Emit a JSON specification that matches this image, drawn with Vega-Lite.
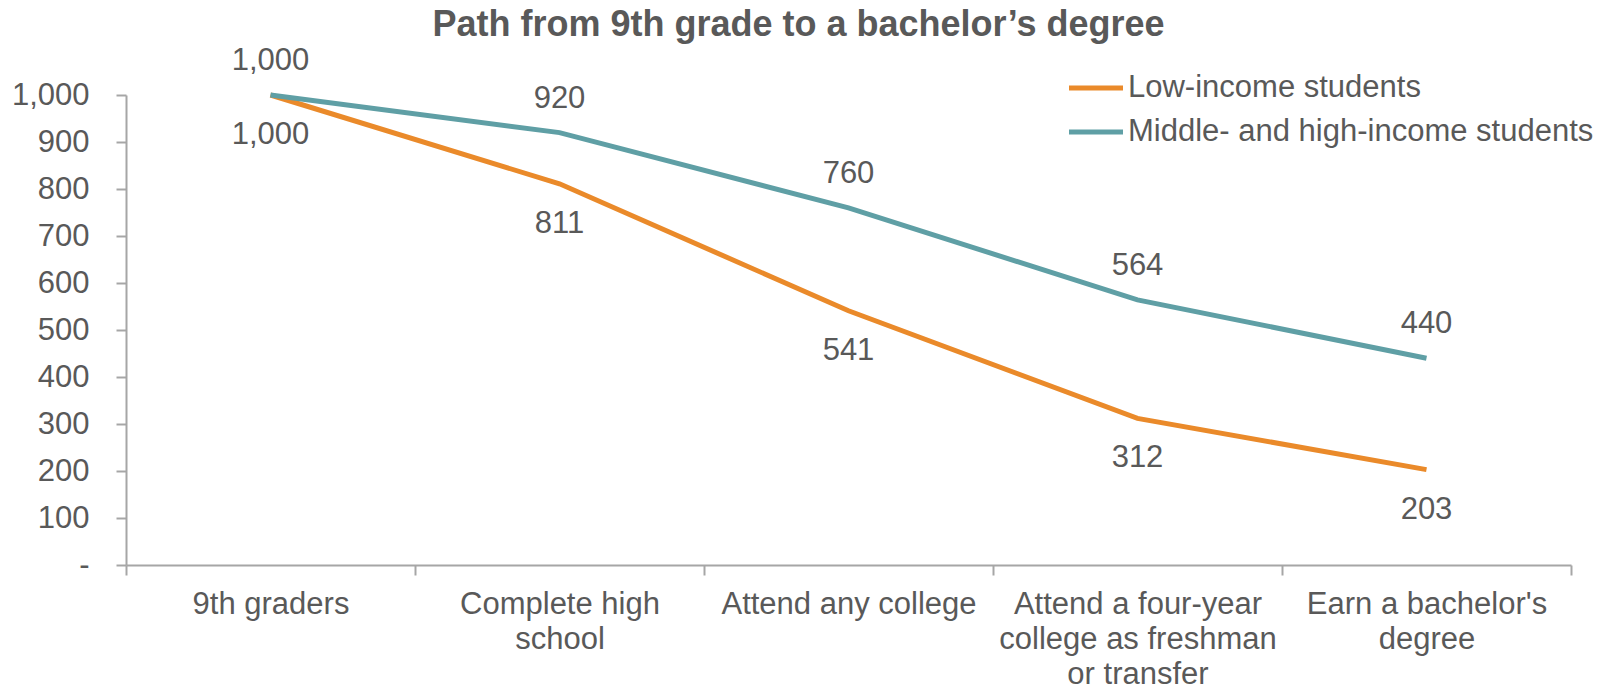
{
  "$schema": "https://vega.github.io/schema/vega-lite/v6.json",
  "width": 1445,
  "height": 470,
  "autosize": {"type": "none"},
  "padding": {"left": 126, "top": 95, "right": 52, "bottom": 127},
  "background": "white",
  "config": {"view": {"stroke": null}},
  "title": {
    "text": "Path from 9th grade to a bachelor’s degree",
    "font": "Liberation Sans",
    "fontSize": 36,
    "fontWeight": "bold",
    "color": "#595959",
    "anchor": "middle",
    "frame": "group",
    "dx": -50,
    "baseline": "alphabetic",
    "offset": -27
  },
  "data": {
    "values": [
      {"stage": "9th graders", "group": "Low-income students", "count": 1000},
      {"stage": "Complete high school", "group": "Low-income students", "count": 811},
      {"stage": "Attend any college", "group": "Low-income students", "count": 541},
      {"stage": "Attend a four-year college as freshman or transfer", "group": "Low-income students", "count": 312},
      {"stage": "Earn a bachelor's degree", "group": "Low-income students", "count": 203},
      {"stage": "9th graders", "group": "Middle- and high-income students", "count": 1000},
      {"stage": "Complete high school", "group": "Middle- and high-income students", "count": 920},
      {"stage": "Attend any college", "group": "Middle- and high-income students", "count": 760},
      {"stage": "Attend a four-year college as freshman or transfer", "group": "Middle- and high-income students", "count": 564},
      {"stage": "Earn a bachelor's degree", "group": "Middle- and high-income students", "count": 440}
    ]
  },
  "encoding": {
    "x": {
      "field": "stage",
      "type": "nominal",
      "sort": null,
      "bandPosition": 0.5,
      "scale": {"type": "band", "paddingInner": 0, "paddingOuter": 0},
      "axis": {
        "title": null,
        "labelAngle": 0,
        "tickBand": "extent",
        "labelFont": "Liberation Sans",
        "labelFontSize": 31,
        "labelColor": "#595959",
        "labelLineHeight": 35,
        "labelBaseline": "top",
        "labelPadding": 14,
        "labelLimit": 400,
        "tickSize": 10,
        "tickWidth": 2,
        "tickColor": "#a6a6a6",
        "domainColor": "#a6a6a6",
        "domainWidth": 2,
        "grid": false,
        "labelExpr": "datum.value == 'Complete high school' ? ['Complete high', 'school'] : datum.value == 'Attend a four-year college as freshman or transfer' ? ['Attend a four-year', 'college as freshman', 'or transfer'] : datum.value == \"Earn a bachelor's degree\" ? [\"Earn a bachelor's\", 'degree'] : datum.value"
      }
    },
    "y": {
      "field": "count",
      "type": "quantitative",
      "scale": {"domain": [0, 1000], "nice": false},
      "axis": {
        "title": null,
        "values": [0, 100, 200, 300, 400, 500, 600, 700, 800, 900, 1000],
        "labelFont": "Liberation Sans",
        "labelFontSize": 31,
        "labelColor": "#595959",
        "labelPadding": 27,
        "tickSize": 10,
        "tickWidth": 2,
        "tickColor": "#a6a6a6",
        "domainColor": "#a6a6a6",
        "domainWidth": 2,
        "grid": false,
        "labelExpr": "datum.value == 0 ? '-\u00a0\u00a0' : format(datum.value, ',')"
      }
    }
  },
  "layer": [
    {
      "mark": {"type": "line", "strokeWidth": 5},
      "encoding": {
        "color": {
          "field": "group",
          "type": "nominal",
          "scale": {
            "domain": ["Low-income students", "Middle- and high-income students"],
            "range": ["#EA8A2A", "#5F9FA5"]
          },
          "legend": {
            "title": null,
            "orient": "none",
            "legendX": 954,
            "legendY": -23,
            "padding": 0,
            "symbolType": "M-2,0H2",
            "symbolSize": 729,
            "symbolStrokeWidth": 5,
            "labelFont": "Liberation Sans",
            "labelFontSize": 31,
            "labelColor": "#595959",
            "labelOffset": 16,
            "labelLimit": 600,
            "rowPadding": 13
          }
        }
      }
    },
    {
      "transform": [{"filter": "datum.group == 'Low-income students'"}],
      "mark": {"type": "text", "dy": 40, "font": "Liberation Sans", "fontSize": 31, "color": "#595959"},
      "encoding": {"text": {"field": "count", "type": "quantitative", "format": ","}}
    },
    {
      "transform": [{"filter": "datum.group == 'Middle- and high-income students'"}],
      "mark": {"type": "text", "dy": -34, "font": "Liberation Sans", "fontSize": 31, "color": "#595959"},
      "encoding": {"text": {"field": "count", "type": "quantitative", "format": ","}}
    }
  ]
}
